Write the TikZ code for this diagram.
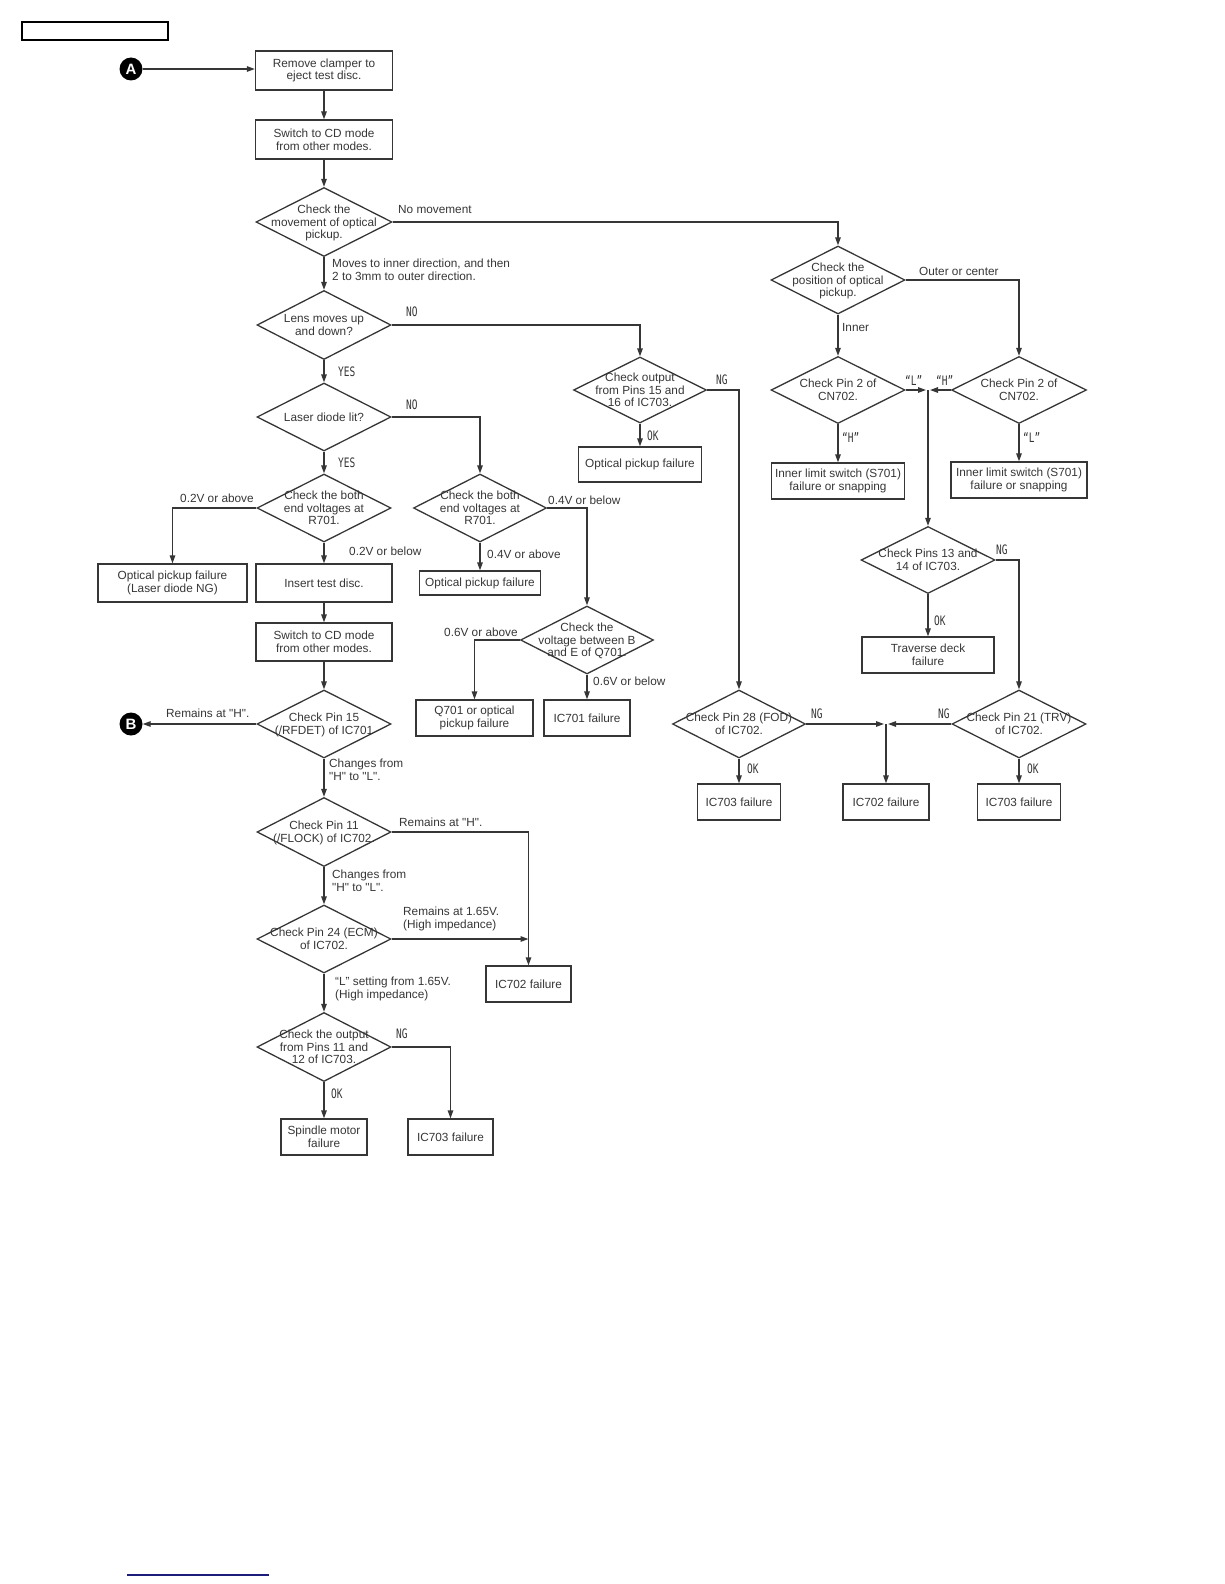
\documentclass[tikz,border=0pt]{standalone}
\usepackage{fontspec}
\usepackage{graphicx}
\setmainfont{Liberation Sans}[Ligatures=TeXOff]
\newfontfamily\ynfamily{DejaVu Sans Mono}
\usetikzlibrary{shapes.geometric,arrows.meta}
\definecolor{ink}{HTML}{363636}
\definecolor{navy}{HTML}{1C1C7A}
\newcommand\dtxt[1]{\smash{\raisebox{-4.5pt}{\makebox[0pt]{\begin{tabular}{@{}c@{}}#1\end{tabular}}}}}
\newcommand\yn[1]{{\ynfamily\fontsize{10}{10}\selectfont\scalebox{0.95}[1.3]{#1}}}
\tikzset{
  every node/.style={font=\fontsize{11.8}{12.6}\selectfont, text=ink},
  box/.style={draw=ink, line width=1.3pt, align=center, inner sep=0pt, minimum height=37},
  dia/.style={draw=ink, line width=1.3pt, shape=diamond, inner sep=0pt, minimum width=134, minimum height=68},
  lbl/.style={anchor=west, inner sep=0pt, align=left},
  link/.style={draw=ink, line width=1.3pt},
  arr/.style={link, -{Triangle[length=8pt,width=5.5pt]}},
  conn/.style={circle, fill=black, text=white, inner sep=0pt, minimum size=23, font=\bfseries\fontsize{15}{15}\selectfont}
}
\begin{document}
\begin{tikzpicture}[x=1pt,y=-1pt]
  \useasboundingbox (0,0) rectangle (1224,1584);
  % page marks
  \draw[black, line width=1.2pt] (22,22) rectangle (168,40);
  \draw[navy, line width=1.6pt] (127,1575) -- (269,1575);

  % left column
  \node[conn] (A) at (131,69) {A};
  \node[box, minimum width=137, minimum height=39] (clamp) at (324,70.5) {Remove clamper to\\eject test disc.};
  \node[box, minimum width=137, minimum height=39] (cd1) at (324,139.5) {Switch to CD mode\\from other modes.};
  \node[dia, minimum width=136, minimum height=69] (move) at (324,222) {\dtxt{Check the\\movement of optical\\pickup.}};
  \node[dia, minimum height=69] (lens) at (324,325) {\dtxt{Lens moves up\\and down?}};
  \node[dia] (laser) at (324,417) {\dtxt{Laser diode lit?}};
  \node[dia] (r701a) at (324,508) {\dtxt{Check the both\\end voltages at\\R701.}};
  \node[box, minimum width=149, minimum height=38] (ldng) at (172.5,583) {Optical pickup failure\\(Laser diode NG)};
  \node[box, minimum width=136, minimum height=38] (insert) at (324,583) {Insert test disc.};
  \node[box, minimum width=136, minimum height=38] (cd2) at (324,642) {Switch to CD mode\\from other modes.};
  \node[dia] (pin15) at (324,724) {\dtxt{Check Pin 15\\(/RFDET) of IC701}};
  \node[conn] (B) at (131,724) {B};
  \node[dia, minimum height=69] (pin11) at (324,832) {\dtxt{Check Pin 11\\(/FLOCK) of IC702.}};
  \node[dia] (pin24) at (324,939) {\dtxt{Check Pin 24 (ECM)\\of IC702.}};
  \node[dia, minimum height=69] (out1112) at (324,1047) {\dtxt{Check the output\\from Pins 11 and\\12 of IC703.}};
  \node[box, minimum width=86, minimum height=36] (spindle) at (324,1137) {Spindle motor\\failure};
  \node[box, minimum width=85, minimum height=36] (ic703a) at (450.5,1137) {IC703 failure};
  \node[box, minimum width=85, minimum height=36] (ic702a) at (528.5,984) {IC702 failure};
  \coordinate (j24) at (pin24.east -| ic702a.north);

  % middle column
  \node[dia, minimum width=133] (r701b) at (480,508) {\dtxt{Check the both\\end voltages at\\R701.}};
  \node[box, minimum width=121, minimum height=24] (pu2) at (480,583) {Optical pickup failure};
  \node[dia, minimum width=133] (q701) at (587,640) {\dtxt{Check the\\voltage between B\\and E of Q701.}};
  \node[box, minimum width=117, minimum height=36] (q701f) at (474.5,718) {Q701 or optical\\pickup failure};
  \node[box, minimum width=86, minimum height=36] (ic701) at (587,718) {IC701 failure};
  \node[dia, minimum width=133, minimum height=66] (out1516) at (640,390) {\dtxt{Check output\\from Pins 15 and\\16 of IC703.}};
  \node[box, minimum width=123, minimum height=35] (pu3) at (640,464.5) {Optical pickup failure};

  % right column
  \node[dia] (pos) at (838,280) {\dtxt{Check the\\position of optical\\pickup.}};
  \node[dia, minimum height=67] (cn2l) at (838,390) {\dtxt{Check Pin 2 of\\CN702.}};
  \node[dia, minimum width=135, minimum height=67] (cn2r) at (1019,390) {\dtxt{Check Pin 2 of\\CN702.}};
  \node[box, minimum width=133, minimum height=36] (lim1) at (838,481) {Inner limit switch (S701)\\failure or snapping};
  \node[box, minimum width=136, minimum height=36] (lim2) at (1019,480) {Inner limit switch (S701)\\failure or snapping};
  \coordinate (jcn) at (928,390);
  \node[dia, minimum height=67] (pins13) at (928,560) {\dtxt{Check Pins 13 and\\14 of IC703.}};
  \node[box, minimum width=132, minimum height=36] (trav) at (928,655) {Traverse deck\\failure};
  \node[dia, minimum width=133] (pin28) at (739,724) {\dtxt{Check Pin 28 (FOD)\\of IC702.}};
  \node[dia] (pin21) at (1019,724) {\dtxt{Check Pin 21 (TRV)\\of IC702.}};
  \coordinate (jic) at (886,724);
  \node[box, minimum width=83, minimum height=36] (ic703b) at (739,802) {IC703 failure};
  \node[box, minimum width=86, minimum height=36] (ic702b) at (886,802) {IC702 failure};
  \node[box, minimum width=83, minimum height=36] (ic703c) at (1019,802) {IC703 failure};

  % branch labels
  \node[lbl] (lnomove) at (398,209) {No movement};
  \node[lbl] (lmoves) at (332,270) {Moves to inner direction, and then\\2 to 3mm to outer direction.};
  \node[lbl] (lno1) at (406,312) {\yn{NO}};
  \node[lbl] (lyes1) at (338,372) {\yn{YES}};
  \node[lbl] (lno2) at (406,405) {\yn{NO}};
  \node[lbl] (lyes2) at (338,463) {\yn{YES}};
  \node[lbl] (l02a) at (180,498) {0.2V or above};
  \node[lbl] (l02b) at (349,551) {0.2V or below};
  \node[lbl] (l04b) at (548,500) {0.4V or below};
  \node[lbl] (l04a) at (487,554) {0.4V or above};
  \node[lbl] (l06a) at (444,632) {0.6V or above};
  \node[lbl] (l06b) at (593,681) {0.6V or below};
  \node[lbl] (lremb) at (166,713) {Remains at "H".};
  \node[lbl] (lchg1) at (329,770) {Changes from\\"H" to "L".};
  \node[lbl] (lrem11) at (399,822) {Remains at "H".};
  \node[lbl] (lchg2) at (332,881) {Changes from\\"H" to "L".};
  \node[lbl] (lrem24) at (403,919) {Remains at 1.65V.\\(High impedance)};
  \node[lbl] (lset24) at (335,989) {“L” setting from 1.65V.\\(High impedance)};
  \node[lbl] (lng1) at (396,1034) {\yn{NG}};
  \node[lbl] (lok1) at (331,1094) {\yn{OK}};
  \node[lbl] (lng2) at (716,380) {\yn{NG}};
  \node[lbl] (lok2) at (647,436) {\yn{OK}};
  \node[lbl] (louter) at (919,271) {Outer or center};
  \node[lbl] (linner) at (842,327) {Inner};
  \node[lbl] (lL1) at (905,381) {\yn{“L”}};
  \node[lbl] (lH1) at (936,381) {\yn{“H”}};
  \node[lbl] (lH2) at (842,438) {\yn{“H”}};
  \node[lbl] (lL2) at (1023,438) {\yn{“L”}};
  \node[lbl] (lng3) at (996,550) {\yn{NG}};
  \node[lbl] (lok3) at (934,621) {\yn{OK}};
  \node[lbl] (lng4) at (811,714) {\yn{NG}};
  \node[lbl] (lng5) at (938,714) {\yn{NG}};
  \node[lbl] (lok4) at (747,769) {\yn{OK}};
  \node[lbl] (lok5) at (1027,769) {\yn{OK}};

  % connectors
  \draw[arr] (A.east) -- (A -| clamp.west);
  \draw[arr] (clamp) -- (cd1);
  \draw[arr] (cd1) -- (move);
  \draw[arr] (move.east) -| (pos.north);
  \draw[arr] (move) -- (lens);
  \draw[arr] (lens.east) -| (out1516.north);
  \draw[arr] (lens) -- (laser);
  \draw[arr] (laser.east) -| (r701b.north);
  \draw[arr] (laser) -- (r701a);
  \draw[arr] (r701a.west) -| (ldng.north);
  \draw[arr] (r701a) -- (insert);
  \draw[arr] (insert) -- (cd2);
  \draw[arr] (cd2) -- (pin15);
  \draw[arr] (pin15.west) -- (B);
  \draw[arr] (pin15) -- (pin11);
  \draw[arr] (pin11.east) -| (ic702a.north);
  \draw[arr] (pin11) -- (pin24);
  \draw[arr] (pin24.east) -- (j24);
  \draw[arr] (pin24) -- (out1112);
  \draw[arr] (out1112.east) -| (ic703a.north);
  \draw[arr] (out1112) -- (spindle);

  \draw[arr] (r701b.east) -| (q701.north);
  \draw[arr] (r701b) -- (pu2);
  \draw[arr] (q701.west) -| (q701f.north);
  \draw[arr] (q701) -- (ic701);
  \draw[arr] (out1516.east) -| (pin28.north);
  \draw[arr] (out1516) -- (pu3);

  \draw[arr] (pos) -- (cn2l);
  \draw[arr] (pos.east) -| (cn2r.north);
  \draw[arr] (cn2l) -- (lim1);
  \draw[arr] (cn2r) -- (lim2);
  \draw[arr, shorten >=2pt] (cn2l.east) -- (jcn);
  \draw[arr, shorten >=2pt] (cn2r.west) -- (jcn);
  \draw[arr] (jcn) -- (pins13.north);
  \draw[arr] (pins13) -- (trav);
  \draw[arr] (pins13.east) -| (pin21.north);
  \draw[arr, shorten >=2pt] (pin28.east) -- (jic);
  \draw[arr, shorten >=2pt] (pin21.west) -- (jic);
  \draw[arr] (jic) -- (ic702b.north);
  \draw[arr] (pin28) -- (ic703b);
  \draw[arr] (pin21) -- (ic703c);
\end{tikzpicture}
\end{document}
